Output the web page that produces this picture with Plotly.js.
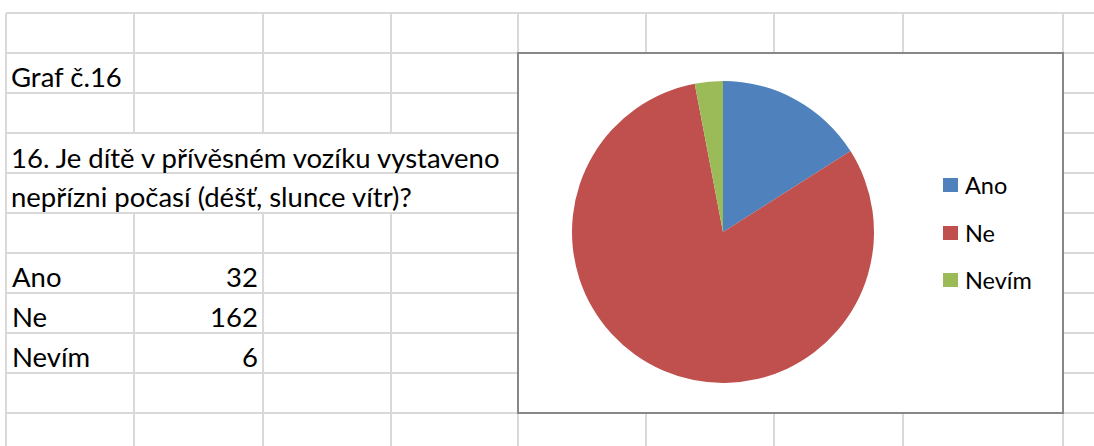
<!DOCTYPE html>
<html>
<head>
<meta charset="utf-8">
<script src="https://cdn.plot.ly/plotly-3.0.1.min.js"></script>
<style>
html,body{margin:0;padding:0;background:#fff;}
#chart{width:1094px;height:446px;}
</style>
</head>
<body>
<div id="chart"></div>
<script>
// ---- data ----
const categories = ["Ano", "Ne", "Nevím"];
const counts = [32, 162, 6];
const sliceColors = ["#4F81BD", "#C0504D", "#9BBB59"];
const sheetTitle = "Graf č.16";
const questionLines = ["16. Je dítě v přívěsném vozíku vystaveno", "nepřízni počasí (déšť, slunce vítr)?"];

// ---- layout helpers (sheet geometry in pixels) ----
const W = 1094, H = 446;
const X = px => px / W;
const Y = py => 1 - py / H;
const FONT = "Lato, 'Open Sans', sans-serif";
const CELL_FONT = 27.5;
const LEG_FONT = 23.5;

const rowLines = [13, 53, 93, 133, 173, 213, 253, 293, 333, 373, 413];
const colLines = [6, 134, 263, 391, 518, 646, 774, 903, 1063];
const gridColor = "#d9d9d9";

const shapes = [];
rowLines.forEach(y => shapes.push({type: "line", xref: "paper", yref: "paper", x0: X(6), x1: X(W + 5), y0: Y(y), y1: Y(y), line: {color: gridColor, width: 2}, layer: "below"}));
colLines.forEach(x => {
  if (x === 134 || x === 263 || x === 391) {
    shapes.push({type: "line", xref: "paper", yref: "paper", x0: X(x), x1: X(x), y0: Y(13), y1: Y(133), line: {color: gridColor, width: 2}, layer: "below"});
    shapes.push({type: "line", xref: "paper", yref: "paper", x0: X(x), x1: X(x), y0: Y(213), y1: Y(H + 5), line: {color: gridColor, width: 2}, layer: "below"});
  } else {
    shapes.push({type: "line", xref: "paper", yref: "paper", x0: X(x), x1: X(x), y0: Y(13), y1: Y(H + 5), line: {color: gridColor, width: 2}, layer: "below"});
  }
});
// chart area box
shapes.push({type: "rect", xref: "paper", yref: "paper", x0: X(518), x1: X(1063), y0: Y(53), y1: Y(413), fillcolor: "#ffffff", line: {color: "#878787", width: 2}, layer: "below"});

const annotations = [];
function cellText(text, x, baselineY, anchor, size) {
  annotations.push({xref: "paper", yref: "paper", x: X(x), y: Y(baselineY), xanchor: anchor, yanchor: "bottom",
    text: text, showarrow: false, font: {family: FONT, size: size, color: "#000"}, borderpad: 0, yshift: -Math.round(size * 0.28)});
}
cellText(sheetTitle, 10, 86, "left", CELL_FONT);
cellText(questionLines[0], 10, 167, "left", CELL_FONT);
cellText(questionLines[1], 10, 206, "left", CELL_FONT);
const rowBase = [286, 326, 366];
categories.forEach((c, i) => {
  cellText(c, 11, rowBase[i], "left", CELL_FONT);
  cellText(String(counts[i]), 259, rowBase[i], "right", CELL_FONT);
});

// custom legend
const legY = [185, 233, 280];
categories.forEach((c, i) => {
  shapes.push({type: "rect", xref: "paper", yref: "paper", x0: X(943), x1: X(958), y0: Y(legY[i] - 7), y1: Y(legY[i] + 7), fillcolor: sliceColors[i], line: {width: 0}, layer: "above"});
  annotations.push({xref: "paper", yref: "paper", x: X(963), y: Y(legY[i]), xanchor: "left", yanchor: "middle",
    text: c, showarrow: false, font: {family: FONT, size: LEG_FONT, color: "#000"}});
});

const cx = 723, cy = 232, r = 151;
const trace = {
  type: "pie",
  labels: categories,
  values: counts,
  sort: false,
  direction: "clockwise",
  rotation: 0,
  marker: {colors: sliceColors, line: {width: 0}},
  textinfo: "none",
  hoverinfo: "label+value+percent",
  showlegend: false,
  domain: {x: [X(cx - r), X(cx + r)], y: [Y(cy + r), Y(cy - r)]}
};

const layout = {
  width: W, height: H,
  margin: {l: 0, r: 0, t: 0, b: 0},
  paper_bgcolor: "#ffffff",
  showlegend: false,
  shapes: shapes,
  annotations: annotations
};

Plotly.newPlot("chart", [trace], layout, {displayModeBar: false, staticPlot: true});
</script>
</body>
</html>
